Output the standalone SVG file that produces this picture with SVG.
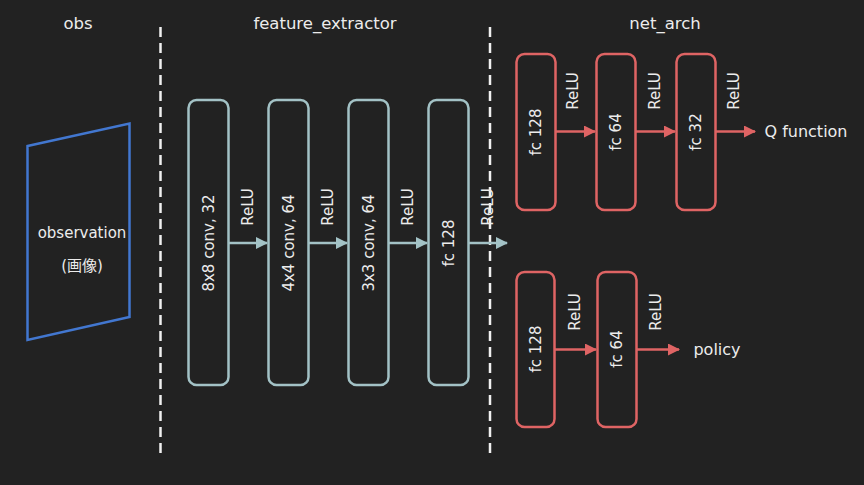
<svg xmlns="http://www.w3.org/2000/svg" width="864" height="485" viewBox="0 0 864 485">
<style>
text{font-family:"DejaVu Sans","Noto Sans CJK JP",sans-serif;font-size:15px;fill:#ececec;text-anchor:middle;dominant-baseline:central}
.t{font-size:16.5px}
.o{font-size:16px}
.fe{fill:none;stroke:#a3c2c6;stroke-width:2.5}
.na{fill:none;stroke:#df6464;stroke-width:2.5}
.sep{stroke:#f0f0f0;stroke-width:2.5;stroke-dasharray:10 6}
.cf{stroke:#a3c2c6;stroke-width:2.5;fill:none}
.cn{stroke:#df6464;stroke-width:2.5;fill:none}
</style>
<defs>
<marker id="ab" viewBox="0 0 12 12" refX="11" refY="6" markerWidth="12" markerHeight="12" markerUnits="userSpaceOnUse" orient="auto"><path d="M0,0 L12,6 L0,12 z" fill="#a3c2c6"/></marker>
<marker id="ar" viewBox="0 0 12 12" refX="11" refY="6" markerWidth="12" markerHeight="12" markerUnits="userSpaceOnUse" orient="auto"><path d="M0,0 L12,6 L0,12 z" fill="#df6464"/></marker>
</defs>
<rect width="864" height="485" fill="#222222"/>
<g id="titles">
<text class="t" x="78" y="23">obs</text>
<text class="t" x="325" y="23">feature_extractor</text>
<text class="t" x="665" y="23">net_arch</text>
</g>
<g id="separators">
<line class="sep" x1="160.5" y1="27" x2="160.5" y2="456"/>
<line class="sep" x1="490" y1="27" x2="490" y2="456"/>
</g>
<g id="observation">
<polygon points="27.5,146 129.5,123.5 129.5,317 27.5,340" fill="none" stroke="#4277d0" stroke-width="2.5"/>
<text x="82" y="233">observation</text>
<text x="82" y="266">(画像)</text>
</g>
<g id="conv1"><rect class="fe" x="188.5" y="100" width="40" height="285" rx="8"/><text transform="translate(209,243) rotate(-90)">8x8 conv, 32</text></g>
<g id="conv2"><rect class="fe" x="268.5" y="100" width="40" height="285" rx="8"/><text transform="translate(289,243) rotate(-90)">4x4 conv, 64</text></g>
<g id="conv3"><rect class="fe" x="348.5" y="100" width="40" height="285" rx="8"/><text transform="translate(369,243) rotate(-90)">3x3 conv, 64</text></g>
<g id="fc128"><rect class="fe" x="428.5" y="100" width="40" height="285" rx="8"/><text transform="translate(449,243) rotate(-90)">fc 128</text></g>
<g id="q1"><rect class="na" x="516.5" y="54" width="39" height="156" rx="8"/><text transform="translate(536,132) rotate(-90)">fc 128</text></g>
<g id="q2"><rect class="na" x="596.5" y="54" width="39" height="156" rx="8"/><text transform="translate(616,132) rotate(-90)">fc 64</text></g>
<g id="q3"><rect class="na" x="676.5" y="54" width="39" height="156" rx="8"/><text transform="translate(696,132) rotate(-90)">fc 32</text></g>
<g id="qout"><text class="o" x="806" y="131">Q function</text></g>
<g id="p1"><rect class="na" x="516.5" y="272" width="38" height="155" rx="8"/><text transform="translate(536,349) rotate(-90)">fc 128</text></g>
<g id="p2"><rect class="na" x="597.5" y="272" width="39" height="155" rx="8"/><text transform="translate(617,349) rotate(-90)">fc 64</text></g>
<g id="pout"><text class="o" x="717" y="349">policy</text></g>
<g id="connectors">
<line class="cf" x1="228.5" y1="243" x2="267" y2="243" marker-end="url(#ab)"/>
<line class="cf" x1="308.5" y1="243" x2="347" y2="243" marker-end="url(#ab)"/>
<line class="cf" x1="388.5" y1="243" x2="427" y2="243" marker-end="url(#ab)"/>
<line class="cf" x1="468.5" y1="243" x2="507" y2="243" marker-end="url(#ab)"/>
<line class="cn" x1="555.5" y1="131.5" x2="595" y2="131.5" marker-end="url(#ar)"/>
<line class="cn" x1="635.5" y1="131.5" x2="675" y2="131.5" marker-end="url(#ar)"/>
<line class="cn" x1="715.5" y1="131.5" x2="755" y2="131.5" marker-end="url(#ar)"/>
<line class="cn" x1="554.5" y1="349.5" x2="596" y2="349.5" marker-end="url(#ar)"/>
<line class="cn" x1="636.5" y1="349.5" x2="679" y2="349.5" marker-end="url(#ar)"/>
<text transform="translate(248,207) rotate(-90)">ReLU</text>
<text transform="translate(328,207) rotate(-90)">ReLU</text>
<text transform="translate(408,207) rotate(-90)">ReLU</text>
<text transform="translate(488,207) rotate(-90)">ReLU</text>
<text transform="translate(573,91) rotate(-90)">ReLU</text>
<text transform="translate(655,91) rotate(-90)">ReLU</text>
<text transform="translate(734,91) rotate(-90)">ReLU</text>
<text transform="translate(575,312) rotate(-90)">ReLU</text>
<text transform="translate(656,312) rotate(-90)">ReLU</text>
</g>
</svg>
